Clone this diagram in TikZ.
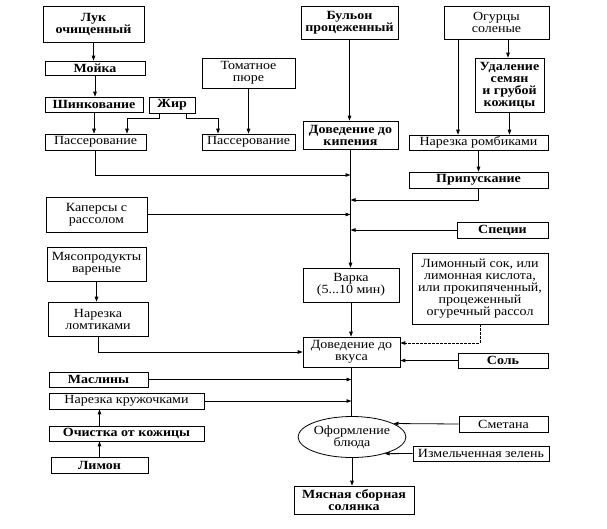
\documentclass[tikz,border=0pt]{standalone}
\usepackage{fontspec}
\setmainfont[FakeStretch=1.12]{Liberation Serif}
\usetikzlibrary{arrows.meta,shapes.geometric,shadows,calc}
\newcommand\dfont{\fontsize{12.5}{12}\selectfont}
\tikzset{
  box/.style={draw, line width=0.6pt, fill=white, inner sep=0pt, align=center, font=\dfont,
    drop shadow={shadow xshift=0.8pt, shadow yshift=-0.8pt, fill=black, opacity=1}},
  bbox/.style={box, font=\dfont\bfseries},
  arr/.style={line width=0.8pt, -{Triangle[length=5pt,width=3.5pt]}},
  ln/.style={line width=0.8pt}
}
\begin{document}
\begin{tikzpicture}[x=1pt,y=-1pt]
\useasboundingbox (0,0) rectangle (607,528);
% left column top
\node[bbox, minimum width=101, minimum height=36] (luk) at (93.5,24) {Лук\\очищенный};
\node[bbox, minimum width=100, minimum height=14] (mojka) at (95,68) {Мойка};
\node[bbox, minimum width=98, minimum height=15] (shink) at (94,104.5) {Шинкование};
\node[bbox, minimum width=46, minimum height=16] (zhir) at (172,105) {Жир};
\node[box, minimum width=101, minimum height=16] (pass1) at (95.5,142) {Пассерование};
\node[box, minimum width=93, minimum height=30] (tomat) at (248.5,73) {Томатное\\пюре};
\node[box, minimum width=93, minimum height=16] (pass2) at (248.5,142) {Пассерование};
% middle / right top
\node[bbox, minimum width=97, minimum height=33] (bulon) at (349.5,22.5) {Бульон\\процеженный};
\node[box, minimum width=105, minimum height=33] (ogur) at (496.5,22.5) {Огурцы\\соленые};
\node[bbox, minimum width=69, minimum height=54] (udal) at (509.5,85) {Удаление\\семян\\и грубой\\кожицы};
\node[bbox, minimum width=95, minimum height=28] (dovkip) at (350.5,135) {Доведение до\\кипения};
\node[box, minimum width=139, minimum height=15] (narromb) at (478.5,142.5) {Нарезка ромбиками};
\node[bbox, minimum width=139, minimum height=16] (pripusk) at (478.5,180) {Припускание};
% middle
\node[box, minimum width=101, minimum height=35] (kapers) at (96.5,214.5) {Каперсы с\\рассолом};
\node[bbox, minimum width=91, minimum height=16] (specii) at (502.5,230) {Специи};
\node[box, minimum width=99, minimum height=34] (myaso) at (96.5,264) {Мясопродукты\\вареные};
\node[box, minimum width=100, minimum height=34] (narlomt) at (98,319) {Нарезка\\ломтиками};
\node[box, minimum width=136, minimum height=71] (limsok) at (480,288.5) {Лимонный сок, или\\лимонная кислота,\\или прокипяченный,\\процеженный\\огуречный рассол};
\node[box, minimum width=96, minimum height=34] (varka) at (351,285) {Варка\\(5...10 мин)};
\node[box, minimum width=97, minimum height=30] (dovvk) at (351.5,352) {Доведение до\\вкуса};
\node[bbox, minimum width=90, minimum height=15] (sol) at (503,360.5) {Соль};
% bottom
\node[bbox, minimum width=99, minimum height=15] (maslin) at (98.5,379.5) {Маслины};
\node[box, minimum width=155, minimum height=16] (narkruzh) at (126.5,401) {Нарезка кружочками};
\node[bbox, minimum width=155, minimum height=15] (ochist) at (126.5,433.5) {Очистка от кожицы};
\node[bbox, minimum width=97, minimum height=16] (limon) at (99.5,465) {Лимон};
\node[draw, line width=0.8pt, ellipse, fill=white, inner sep=0pt, align=center, font=\dfont,
      minimum width=102, minimum height=41] (oform) at (352,437) {Оформление\\блюда};
\node[box, minimum width=89, minimum height=16] (smetana) at (503.5,424) {Сметана};
\node[box, minimum width=136, minimum height=15] (zelen) at (481,453.5) {Измельченная зелень};
\node[bbox, minimum width=120, minimum height=28] (solyanka) at (354,500) {Мясная сборная\\солянка};
% coordinates on the main line
\coordinate (m1) at (350.5,175);
\coordinate (m2) at (350.5,200);
% connectors: left column
\draw[arr] (luk.south) -- (luk.south |- mojka.north);
\draw[arr] (mojka.south) -- (mojka.south |- shink.north);
\draw[arr] (shink.south) -- (shink.south |- pass1.north);
\draw[arr] ([xshift=-13pt]zhir.south) -- ++(0,5) -| ([xshift=31.5pt]pass1.north);
\draw[arr] ([xshift=14pt]zhir.south) -- ++(0,5) -| ([xshift=-30.5pt]pass2.north);
\draw[arr] (tomat.south) -- (pass2.north);
% right column
\draw[arr] (bulon.south) -- (bulon.south |- dovkip.north);
\draw[arr] ([xshift=11.5pt]ogur.south) -- ([xshift=11.5pt]ogur.south |- udal.north);
\draw[arr] ([xshift=-38.5pt]ogur.south) -- ([xshift=-38.5pt]ogur.south |- narromb.north);
\draw[arr] (udal.south) -- (udal.south |- narromb.north);
\draw[arr] (narromb.south) -- (pripusk.north);
% main line
\draw[ln] (dovkip.south) -- (m1);
\draw[arr] (m1) -- (dovkip.south |- varka.north);
\draw[arr] (pass1.south) |- (m1);
\draw[arr] (pripusk.south) |- (m2);
\draw[arr] (kapers.east) -- (kapers.east -| m2);
\draw[arr] (specii.west) -- (specii.west -| m2);
\draw[arr] (myaso.south) -- (myaso.south |- narlomt.north);
\draw[arr] (varka.south) -- (varka.south |- dovvk.north);
\draw[arr] (narlomt.south) |- (dovvk.west);
\draw[arr, dash pattern=on 2.5pt off 1.5pt] (limsok.south) |- ([yshift=9pt]dovvk.east);
\draw[arr] (sol.west) -- (sol.west -| dovvk.east);
\draw[ln] (dovvk.south) -- (dovvk.south |- oform.north);
\draw[arr] (maslin.east) -- (maslin.east -| dovvk.south);
\draw[arr] (narkruzh.east) -- (narkruzh.east -| dovvk.south);
\draw[arr] (limon.north) -- (limon.north |- ochist.south);
\draw[arr] (limon.north |- ochist.north) -- (limon.north |- narkruzh.south);
\draw[arr] (smetana.west) -- (oform.18);
\draw[arr] (zelen.west) -- (oform.-27);
\draw[arr] (oform.south) -- (oform.south |- solyanka.north);
\end{tikzpicture}
\end{document}
